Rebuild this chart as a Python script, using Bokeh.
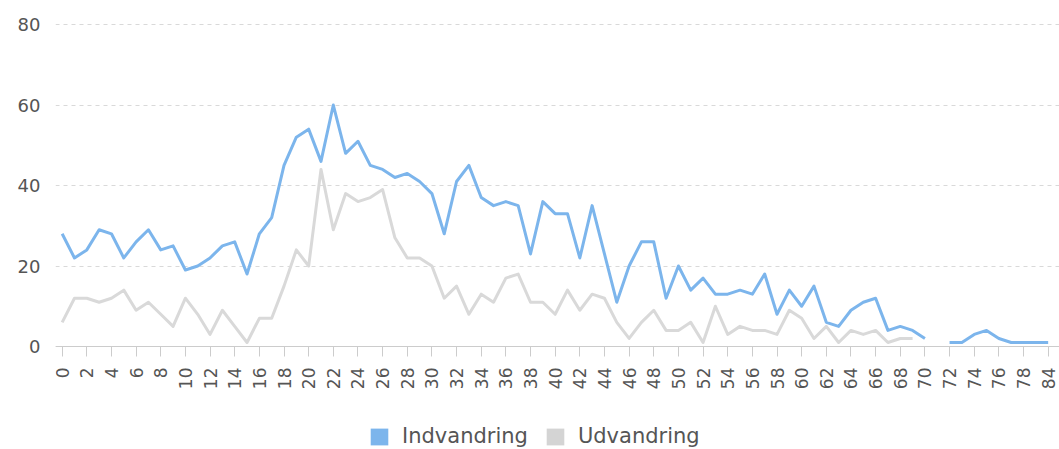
import math
from bokeh.plotting import figure
from bokeh.models import FixedTicker, Legend, LegendItem, Range1d, ColumnDataSource
from bokeh.embed import file_html
from bokeh.resources import INLINE

nan = float("nan")

# categories (ages); position 80 is labelled "84"
ages = [str(a) for a in list(range(80)) + [84]]

indvandring = [
    28, 22, 24, 29, 28, 22, 26, 29, 24, 25,
    19, 20, 22, 25, 26, 18, 28, 32, 45, 52,
    54, 46, 60, 48, 51, 45, 44, 42, 43, 41,
    38, 28, 41, 45, 37, 35, 36, 35, 23, 36,
    33, 33, 22, 35, 23, 11, 20, 26, 26, 12,
    20, 14, 17, 13, 13, 14, 13, 18, 8, 14,
    10, 15, 6, 5, 9, 11, 12, 4, 5, 4,
    2, nan, 1, 1, 3, 4, 2, 1, 1, 1, 1,
]
udvandring = [
    6, 12, 12, 11, 12, 14, 9, 11, 8, 5,
    12, 8, 3, 9, 5, 1, 7, 7, 15, 24,
    20, 44, 29, 38, 36, 37, 39, 27, 22, 22,
    20, 12, 15, 8, 13, 11, 17, 18, 11, 11,
    8, 14, 9, 13, 12, 6, 2, 6, 9, 4,
    4, 6, 1, 10, 3, 5, 4, 4, 3, 9,
    7, 2, 5, 1, 4, 3, 4, 1, 2, 2,
    nan, nan, nan, nan, nan, nan, nan, nan, nan, nan, nan,
]
y_ticks = [0, 20, 40, 60, 80]
series_names = ["Indvandring", "Udvandring"]
series_colors = ["#7cb5ec", "#d9d9d9"]
legend_colors = ["#7cb5ec", "#d4d4d4"]

pos = list(range(len(ages)))
src = ColumnDataSource(dict(x=pos, ind=indvandring, udv=udvandring))

FONT = "DejaVu Sans"

# frame covers the whole lower area; the x axis is pinned at y = 0
p = figure(width=1059, height=449, output_backend="svg", toolbar_location=None,
           x_range=Range1d(-0.54, 80.92), y_range=Range1d(-25.59, 80.25),
           min_border_left=55, min_border_right=0, min_border_top=23,
           min_border_bottom=0)
p.outline_line_color = None
p.background_fill_color = "white"
p.border_fill_color = "white"

p.xgrid.visible = False
p.ygrid.ticker = FixedTicker(ticks=y_ticks)
p.ygrid.grid_line_color = "#d9d9d9"
p.ygrid.grid_line_dash = "4 4"
p.ygrid.grid_line_width = 1

# y axis
p.yaxis.ticker = FixedTicker(ticks=y_ticks)
p.yaxis.axis_line_color = None
p.yaxis.major_tick_line_color = None
p.yaxis.minor_tick_line_color = None
p.yaxis.major_tick_out = 0
p.yaxis.major_tick_in = 0
p.yaxis.major_label_standoff = 15
p.yaxis.major_label_text_font = FONT
p.yaxis.major_label_text_font_size = "18px"
p.yaxis.major_label_text_color = "#555555"

# x axis
xt = list(range(0, len(ages), 2))
p.xaxis.fixed_location = 0
p.xaxis.ticker = FixedTicker(ticks=xt)
p.xaxis.major_label_overrides = {i: ages[i] for i in xt}
p.xaxis.major_label_orientation = math.pi / 2
p.xaxis.axis_line_color = "#cccccc"
p.xaxis.major_tick_line_color = "#cccccc"
p.xaxis.minor_tick_line_color = None
p.xaxis.major_tick_out = 10
p.xaxis.major_tick_in = 0
p.xaxis.major_label_standoff = 11
p.xaxis.major_label_text_font = FONT
p.xaxis.major_label_text_font_size = "17px"
p.xaxis.major_label_text_color = "#555555"

p.line("x", "udv", source=src, line_color=series_colors[1], line_width=3, line_join="round")
p.line("x", "ind", source=src, line_color=series_colors[0], line_width=3, line_join="round")

# legend squares (glyphs with no visible data, only used for the legend swatches)
r1 = p.quad(left=[nan], right=[nan], top=[nan], bottom=[nan],
            fill_color=legend_colors[0], line_color=None)
r2 = p.quad(left=[nan], right=[nan], top=[nan], bottom=[nan],
            fill_color=legend_colors[1], line_color=None)
legend = Legend(items=[LegendItem(label=series_names[0], renderers=[r1]),
                       LegendItem(label=series_names[1], renderers=[r2])],
                orientation="horizontal", location=(313, 1),
                padding=0, margin=0, spacing=16, label_standoff=12,
                glyph_width=22, glyph_height=21, label_height=21,
                label_text_font=FONT, label_text_font_size="21px",
                label_text_color="#555555",
                border_line_color=None, background_fill_alpha=0)
p.add_layout(legend, "center")

open("out.html", "w").write(file_html(p, INLINE))
